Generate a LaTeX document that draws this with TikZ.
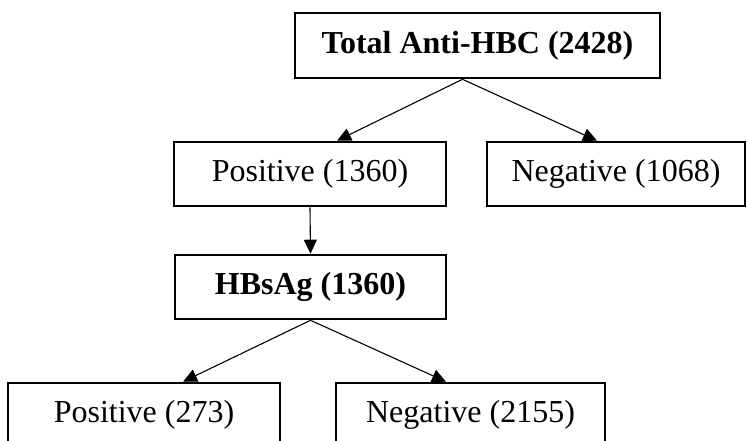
\documentclass[tikz,border=0pt]{standalone}
\usepackage{fontspec}
\setmainfont{Liberation Serif}
\usetikzlibrary{arrows.meta,calc}
\tikzset{
  box/.style={draw, line width=2.6pt, rectangle, inner sep=0pt, minimum height=64pt,
    font=\fontsize{32}{38}\selectfont},
  arr/.style={line width=1.1pt, -{Triangle[length=14pt,width=13pt]}}
}
\begin{document}
\begin{tikzpicture}[x=1pt,y=-1pt]
\clip (0,0) rectangle (747,441);
\useasboundingbox (0,0) rectangle (747,441);
\node[box, minimum width=365pt, minimum height=65pt] (top) at (477.5,45.5) {\bfseries Total Anti-HBC (2428)};
\node[box, minimum width=272pt] (pos) at (310,174) {Positive (1360)};
\node[box, minimum width=258pt] (neg) at (616,174) {Negative (1068)};
\node[box, minimum width=271pt] (hb) at (310.5,287) {\bfseries HBsAg (1360)};
\node[box, minimum width=272pt] (bl) at (144,415) {Positive (273)};
\node[box, minimum width=269pt] (br) at (470.5,415) {Negative (2155)};
\draw[arr] ($(top.south)+(-15,0)$) -- ($(pos.north)+(27,0)$);
\draw[arr] ($(top.south)+(-15,0)$) -- ($(neg.north)+(-19,0)$);
\draw[arr] (pos.south) -- (hb.north);
\draw[arr] (hb.south) -- ($(bl.north)+(39,0)$);
\draw[arr] (hb.south) -- ($(br.north)+(-24.5,0)$);
\end{tikzpicture}
\end{document}
